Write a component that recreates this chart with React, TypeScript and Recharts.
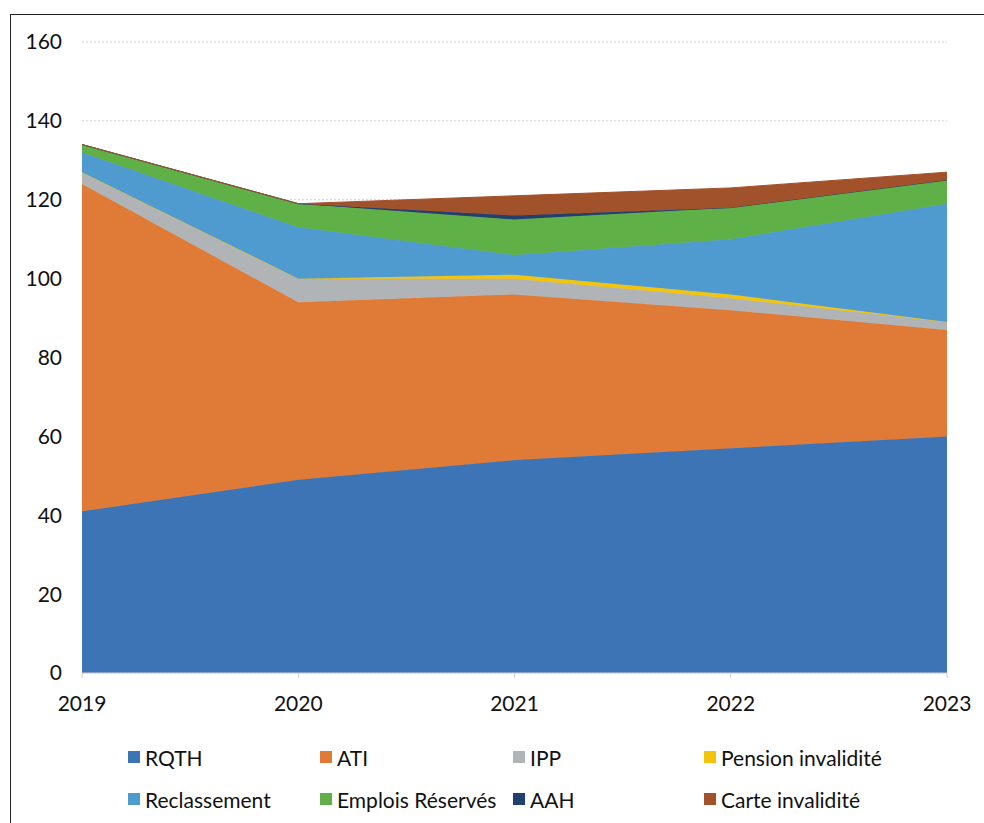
import { AreaChart, Area, XAxis, YAxis, CartesianGrid, Legend } from 'recharts'

// Effectifs par type de reconnaissance, 2019–2023
const years = ['2019', '2020', '2021', '2022', '2023']
const rqth = [41, 49, 54, 57, 60]
const ati = [83, 45, 42, 35, 27]
const ipp = [3, 6, 4, 3, 2]
const pension = [0, 0, 1, 1, 0]
const reclassement = [5, 13, 5, 14, 30]
const emplois = [2, 6, 9, 8, 6]
const aah = [0, 0, 1, 0, 0]
const carte = [0, 0, 5, 5, 2]
const yTicks = [0, 20, 40, 60, 80, 100, 120, 140, 160]

const series = [
  { key: 'RQTH', values: rqth, color: '#3d74b5' },
  { key: 'ATI', values: ati, color: '#df7b37' },
  { key: 'IPP', values: ipp, color: '#b1b4b6' },
  { key: 'Pension invalidité', values: pension, color: '#f2c40c' },
  { key: 'Reclassement', values: reclassement, color: '#4f9bd0' },
  { key: 'Emplois Réservés', values: emplois, color: '#5fb046' },
  { key: 'AAH', values: aah, color: '#233f6e' },
  { key: 'Carte invalidité', values: carte, color: '#a1522a' },
]

const data = years.map((year, i) => {
  const row: Record<string, string | number> = { year }
  series.forEach((s) => {
    row[s.key] = s.values[i]
  })
  return row
})

const FONT = 'Lato, "Liberation Sans", sans-serif'

// legend laid out as two rows of four, column starts fixed
const legendCols = [128, 320, 513, 704]
const legendRows = [757, 799]

function LegendGrid() {
  return (
    <div style={{ position: 'relative', width: 984, height: 0 }}>
      {series.map((s, i) => {
        const col = i % 4
        const row = Math.floor(i / 4)
        return (
          <div
            key={s.key}
            style={{
              position: 'absolute',
              left: legendCols[col],
              top: legendRows[row] - 12,
              height: 24,
              display: 'flex',
              alignItems: 'center',
              fontFamily: FONT,
              fontSize: 21,
              color: '#111',
              whiteSpace: 'nowrap',
            }}
          >
            <span style={{ width: 12, height: 12, background: s.color, marginRight: 5, display: 'inline-block' }} />
            {s.key}
          </div>
        )
      })}
    </div>
  )
}

export default function App() {
  return (
    <div style={{ position: 'absolute', left: 0, top: 0, width: 984, height: 823, background: '#fff' }}>
      <div
        style={{
          position: 'absolute',
          left: 10,
          top: 14,
          width: 984,
          height: 823,
          borderLeft: '1.5px solid #222',
          borderTop: '1.5px solid #222',
        }}
      />
      <AreaChart
        width={984}
        height={823}
        data={data}
        margin={{ top: 42, right: 37, bottom: 0, left: 22 }}
        style={{ position: 'absolute', left: 0, top: 0 }}
      >
        <CartesianGrid vertical={false} stroke="#cfcfcf" strokeDasharray="2 2" />
        <XAxis
          dataKey="year"
          height={150}
          axisLine={{ stroke: '#d0d0d0' }}
          tickLine={{ stroke: '#d0d0d0' }}
          tickSize={5}
          tickMargin={18}
          tick={{ fontSize: 21, fontFamily: FONT, fill: '#111' }}
        />
        <YAxis
          width={60}
          domain={[0, 160]}
          ticks={yTicks}
          axisLine={false}
          tickLine={false}
          tickSize={0}
          tickMargin={20}
          tick={{ fontSize: 21, fontFamily: FONT, fill: '#111' }}
        />
        {series.map((s) => (
          <Area
            key={s.key}
            type="linear"
            dataKey={s.key}
            stackId="1"
            stroke={s.color}
            strokeWidth={1}
            fill={s.color}
            fillOpacity={1}
            isAnimationActive={false}
            dot={false}
            activeDot={false}
          />
        ))}
        <Legend
          content={() => <LegendGrid />}
          wrapperStyle={{ position: 'absolute', left: 0, top: 0, width: 984, height: 0 }}
        />
      </AreaChart>
    </div>
  )
}
